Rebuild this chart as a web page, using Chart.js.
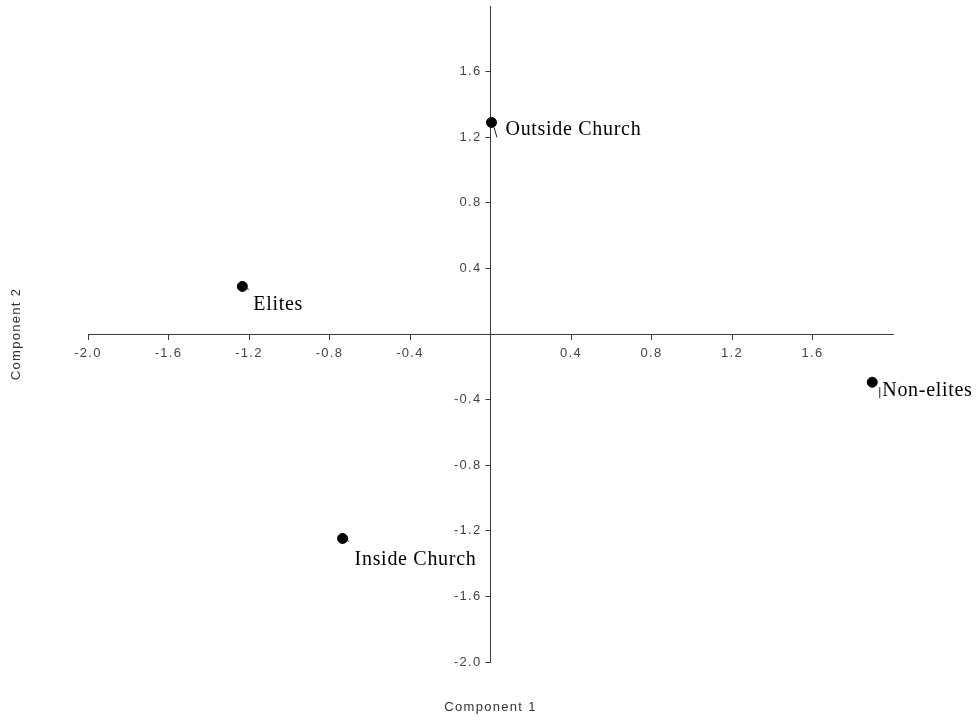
<!DOCTYPE html>
<html>
<head>
<meta charset="utf-8">
<script src="https://cdn.jsdelivr.net/npm/chart.js@4"></script>
<style>
  html, body { margin: 0; padding: 0; background: #fff; }
  #c { display: block; }
</style>
</head>
<body>
<canvas id="c" width="980" height="721"></canvas>
<script>
// ---- data ----
const categories = ["Outside Church", "Elites", "Inside Church", "Non-elites"];
const component1 = [0.005, -1.233, -0.735, 1.897];
const component2 = [1.29, 0.29, -1.247, -0.294];
const xTickValues = [-2.0, -1.6, -1.2, -0.8, -0.4, 0.4, 0.8, 1.2, 1.6];
const yTickValues = [-2.0, -1.6, -1.2, -0.8, -0.4, 0.4, 0.8, 1.2, 1.6];
const xTitleText = "Component 1";
const yTitleText = "Component 2";

// label placement / leader marks (pixel offsets from each point; style only)
const labelOffsets = [[14, 13], [11, 24], [12, 26], [10, 14]];
const leaderOffsets = [[[2, 5], [5, 15]], [[2, 1], [6, 3]], [[2, 1], [6, 3]], [[7, 5], [7, 16]]];

const points = categories.map((c, i) => ({ x: component1[i], y: component2[i], label: c }));

const axisColor = '#3a3a3a';
const sansFamily = 'Liberation Sans, Arial, sans-serif';
const tickFont = { family: sansFamily, size: 13 };

const spacingPlugin = {
  id: 'spacing',
  beforeDraw(chart) { chart.ctx.letterSpacing = '1.3px'; }
};

const yAxisAtZero = {
  id: 'yAxisAtZero',
  afterLayout(chart) {
    const ys = chart.scales.y, xs = chart.scales.x;
    const px = xs.getPixelForValue(0);
    ys.right = px; ys.left = px - 40; ys.width = 40;
  }
};

const pointLabels = {
  id: 'pointLabels',
  afterDatasetsDraw(chart) {
    const ctx = chart.ctx;
    const xs = chart.scales.x, ys = chart.scales.y;
    ctx.save();
    ctx.strokeStyle = '#222';
    ctx.lineWidth = 1;
    points.forEach((p, i) => {
      const px = xs.getPixelForValue(p.x);
      const py = ys.getPixelForValue(p.y);
      const [a, b] = leaderOffsets[i];
      ctx.beginPath();
      ctx.moveTo(px + a[0] + 0.5, py + a[1]);
      ctx.lineTo(px + b[0] + 0.5, py + b[1]);
      ctx.stroke();
    });
    ctx.letterSpacing = '0.7px';
    ctx.font = '20px "Liberation Serif", "Times New Roman", serif';
    ctx.fillStyle = '#000';
    ctx.textAlign = 'left';
    ctx.textBaseline = 'alphabetic';
    points.forEach((p, i) => {
      const px = xs.getPixelForValue(p.x);
      const py = ys.getPixelForValue(p.y);
      const [dx, dy] = labelOffsets[i];
      ctx.fillText(p.label, px + dx, py + dy);
    });
    ctx.restore();
  }
};

new Chart(document.getElementById('c'), {
  type: 'scatter',
  data: {
    datasets: [{
      data: points,
      backgroundColor: '#000',
      borderColor: '#000',
      pointRadius: 5,
      pointHoverRadius: 5
    }]
  },
  options: {
    responsive: false,
    animation: false,
    events: [],
    layout: { padding: { top: 5, right: 87, bottom: 0, left: 0 } },
    plugins: { legend: { display: false }, tooltip: { enabled: false } },
    scales: {
      x: {
        type: 'linear', axis: 'x', min: -2, max: 2,
        position: { y: 0 },
        grid: { display: true, drawOnChartArea: false, drawTicks: true, tickLength: 5, color: axisColor, lineWidth: 1 },
        border: { display: true, color: axisColor, width: 1 },
        ticks: {
          font: tickFont, color: '#444', padding: 7, autoSkip: false, maxRotation: 0,
          callback: v => Number(v).toFixed(1)
        },
        afterBuildTicks: s => { s.ticks = xTickValues.map(v => ({ value: v })); },
        afterFit: s => { s.height = 0; s.paddingLeft = 0; s.paddingRight = 0; }
      },
      y: {
        type: 'linear', axis: 'y', min: -2, max: 2,
        position: 'left',
        grid: { display: true, drawOnChartArea: false, drawTicks: true, tickLength: 5, color: axisColor, lineWidth: 1 },
        border: { display: true, color: axisColor, width: 1 },
        ticks: {
          font: tickFont, color: '#444', padding: 4, autoSkip: false,
          callback: v => Number(v).toFixed(1)
        },
        afterBuildTicks: s => { s.ticks = yTickValues.map(v => ({ value: v })); },
        afterFit: s => { s.width = 0; s.paddingTop = 0; s.paddingBottom = 0; }
      },
      xTitle: {
        type: 'linear', axis: 'x', position: 'bottom',
        grid: { display: false }, border: { display: false }, ticks: { display: false },
        title: { display: true, text: xTitleText, color: '#333', font: { family: sansFamily, size: 13 }, padding: { top: 0, bottom: 6 } },
        afterFit: s => { s.height = 59; }
      },
      yTitle: {
        type: 'linear', axis: 'y', position: 'left',
        grid: { display: false }, border: { display: false }, ticks: { display: false },
        title: { display: true, text: yTitleText, color: '#333', font: { family: sansFamily, size: 13 }, padding: { top: 9, bottom: 0 } },
        afterFit: s => { s.width = 88; }
      }
    }
  },
  plugins: [spacingPlugin, yAxisAtZero, pointLabels]
});
</script>
</body>
</html>
